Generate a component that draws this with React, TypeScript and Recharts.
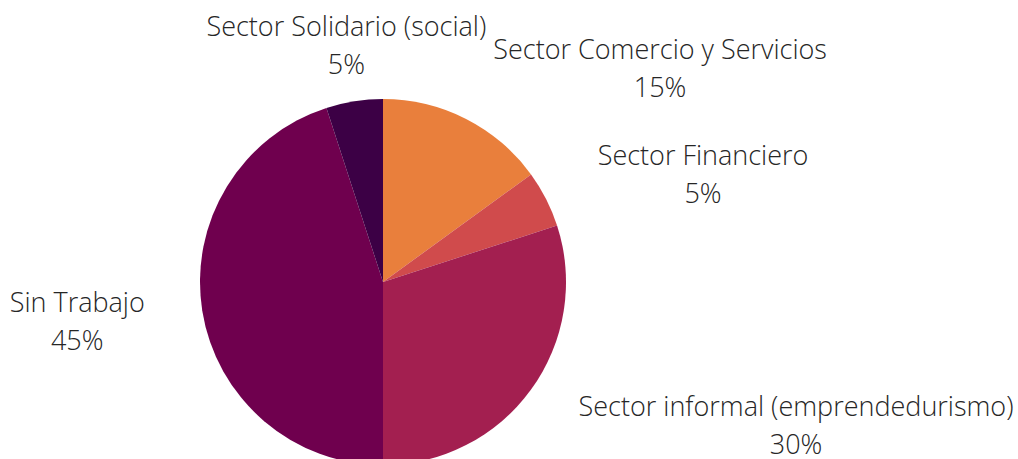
import React from 'react';
import { PieChart, Pie, Cell } from 'recharts';

const sectors = [
  'Sector Comercio y Servicios',
  'Sector Financiero',
  'Sector informal (emprendedurismo)',
  'Sin Trabajo',
  'Sector Solidario (social)',
];
const shares = [15, 5, 30, 45, 5];

const colors = ['#E97F3C', '#D04B4C', '#A31F50', '#6F004E', '#3C0045'];
// shift from the slice's outer edge point to the centre of its label
const labelNudge = [
  [194, -51],
  [157, -25],
  [265, 35],
  [-125, 10],
  [-8, -56],
];

const data = sectors.map((name, i) => ({ name, value: shares[i] }));

const RAD = Math.PI / 180;

const renderLabel = (props: any) => {
  const { cx, cy, midAngle, outerRadius, index, name, value } = props;
  const x = cx + outerRadius * Math.cos(-midAngle * RAD) + labelNudge[index][0];
  const y = cy + outerRadius * Math.sin(-midAngle * RAD) + labelNudge[index][1];
  return (
    <text
      x={x}
      y={y}
      textAnchor="middle"
      fill="#262626"
      style={{ fontFamily: '"Open Sans", sans-serif', fontWeight: 300, fontSize: 27 }}
    >
      <tspan x={x} dy={-9}>{name}</tspan>
      <tspan x={x} dy={38}>{value}%</tspan>
    </text>
  );
};

const App = () => {
  return (
    <div style={{ position: 'absolute', left: 0, top: 0, background: '#fff' }}>
      <PieChart width={1018} height={459} margin={{ top: 0, right: 0, bottom: 0, left: 0 }}>
        <Pie
          data={data}
          dataKey="value"
          cx={383}
          cy={282}
          outerRadius={183}
          startAngle={90}
          endAngle={-270}
          stroke="none"
          label={renderLabel}
          labelLine={false}
          isAnimationActive={false}
        >
          {data.map((d, i) => (
            <Cell key={d.name} fill={colors[i]} />
          ))}
        </Pie>
      </PieChart>
    </div>
  );
};

export default App;
